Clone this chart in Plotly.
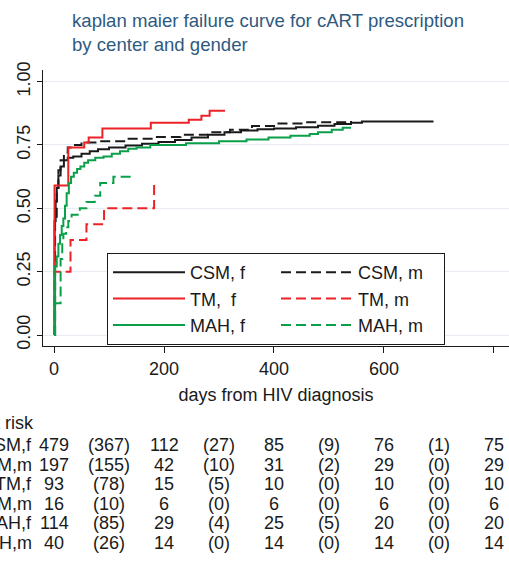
import plotly.graph_objects as go

# ---------------- data ----------------
csm_f_t = [0, 1, 3, 5, 8, 12, 18, 25, 35, 50, 65, 80, 100, 130, 160, 190, 220, 250, 280, 310, 340, 370, 400, 440, 480, 510, 540, 560, 690]
csm_f_f = [0, 0.45, 0.53, 0.58, 0.63, 0.665, 0.69, 0.70, 0.705, 0.715, 0.725, 0.733, 0.74, 0.748, 0.755, 0.762, 0.77, 0.78, 0.79, 0.80, 0.807, 0.812, 0.815, 0.82, 0.826, 0.833, 0.838, 0.843, 0.843]

csm_m_t = [0, 2, 5, 8, 12, 18, 25, 35, 50, 80, 130, 180, 230, 280, 320, 360, 400, 450, 540]
csm_m_f = [0, 0.45, 0.58, 0.65, 0.69, 0.72, 0.74, 0.75, 0.76, 0.765, 0.775, 0.782, 0.79, 0.80, 0.81, 0.825, 0.835, 0.84, 0.845]

tm_f_t = [0, 1, 26, 55, 63, 88, 176, 245, 268, 283, 311]
tm_f_f = [0, 0.59, 0.74, 0.76, 0.78, 0.815, 0.838, 0.85, 0.865, 0.885, 0.885]

tm_m_t = [0, 1, 30, 59, 91, 182]
tm_m_f = [0, 0.25, 0.375, 0.4375, 0.5, 0.6]

mah_f_t = [0, 2, 5, 8, 11, 14, 17, 20, 23, 27, 31, 36, 42, 48, 55, 62, 75, 90, 105, 120, 135, 150, 175, 240, 300, 350, 390, 430, 465, 480, 505, 525, 540]
mah_f_f = [0, 0.27, 0.31, 0.36, 0.395, 0.43, 0.46, 0.51, 0.56, 0.60, 0.625, 0.64, 0.655, 0.665, 0.68, 0.69, 0.70, 0.705, 0.715, 0.725, 0.735, 0.74, 0.75, 0.757, 0.765, 0.772, 0.78, 0.786, 0.793, 0.80, 0.81, 0.818, 0.818]

mah_m_t = [0, 1, 12, 15, 17, 22, 26, 32, 47, 59, 74, 84, 108, 144]
mah_m_f = [0, 0.125, 0.30, 0.37, 0.40, 0.425, 0.45, 0.475, 0.50, 0.525, 0.55, 0.60, 0.625, 0.625]

risk_times = [0, 200, 400, 600, 800]
event_times = [100, 300, 500, 700]
risk_labels = ["CSM,f", "CSM,m", "TM,f", "TM,m", "MAH,f", "MAH,m"]
at_risk = [
    [479, 112, 85, 76, 75],
    [197, 42, 31, 29, 29],
    [93, 15, 10, 10, 10],
    [16, 6, 6, 6, 6],
    [114, 29, 25, 20, 20],
    [40, 14, 14, 14, 14],
]
events = [
    [367, 27, 9, 1],
    [155, 10, 2, 0],
    [78, 5, 0, 0],
    [10, 0, 0, 0],
    [85, 4, 5, 0],
    [26, 0, 0, 0],
]

x_ticks = [0, 200, 400, 600, 800]
y_ticks = [0, 0.25, 0.5, 0.75, 1.0]
y_ticktext = ["0.00", "0.25", "0.50", "0.75", "1.00"]

# ---------------- style ----------------
BLACK = "#1a1a1a"
RED = "#ec2227"
GREEN = "#0aa04a"
FONT = "Liberation Sans, Arial, Helvetica, sans-serif"
W, H = 509, 561
ML, MR, MT, MB = 43, 0, 70, 215
PW = W - ML - MR
PH = H - MT - MB
DASH = "10px,5px"

series = [
    ("CSM, f", csm_f_t, csm_f_f, BLACK, "solid"),
    ("CSM, m", csm_m_t, csm_m_f, BLACK, DASH),
    ("TM,\u00a0 f", tm_f_t, tm_f_f, RED, "solid"),
    ("TM, m", tm_m_t, tm_m_f, RED, DASH),
    ("MAH, f", mah_f_t, mah_f_f, GREEN, "solid"),
    ("MAH, m", mah_m_t, mah_m_f, GREEN, DASH),
]

fig = go.Figure()
for name, t, f, col, dash in series:
    fig.add_trace(go.Scatter(
        x=t, y=f, mode="lines", name=name,
        line=dict(color=col, width=2, dash=dash, shape="hv"),
    ))


def py2paper(py):
    return (H - MB - py) / PH


def px2paper(px):
    return (px - ML) / PW


tfont = dict(size=18, color=BLACK, family=FONT)
ann = []
rows_py = [445, 464.6, 484.2, 503.8, 523.4, 543]
ann.append(dict(text="Number at risk", x=px2paper(36), xref="paper",
                y=py2paper(423), yref="paper", xanchor="right", yanchor="middle",
                showarrow=False, font=tfont))
for i, lab in enumerate(risk_labels):
    yp = py2paper(rows_py[i])
    ann.append(dict(text=lab, x=px2paper(34), xref="paper", y=yp, yref="paper",
                    xanchor="right", yanchor="middle", showarrow=False, font=tfont))
    for tt, v in zip(risk_times, at_risk[i]):
        ann.append(dict(text=str(v), x=tt, xref="x", y=yp, yref="paper",
                        xanchor="center", yanchor="middle", showarrow=False, font=tfont))
    for tt, v in zip(event_times, events[i]):
        ann.append(dict(text="(%d)" % v, x=tt, xref="x", y=yp, yref="paper",
                        xanchor="center", yanchor="middle", showarrow=False, font=tfont))

fig.update_layout(
    width=W, height=H,
    margin=dict(l=ML, r=MR, t=MT, b=MB, autoexpand=False),
    paper_bgcolor="white", plot_bgcolor="white",
    font=dict(family=FONT, size=18, color=BLACK),
    title=dict(
        text="kaplan maier failure curve for cART prescription<br>by center and gender",
        x=px2paper(72), xref="paper", xanchor="left",
        y=1 - 27 / H, yref="container", yanchor="top", automargin=False,
        font=dict(size=18.6, color="#2f5a80", family=FONT),
    ),
    xaxis=dict(
        range=[-20, 827.3], tickvals=x_ticks, showgrid=False, zeroline=False,
        showline=True, linecolor=BLACK, linewidth=1, automargin=False,
        ticks="outside", ticklen=6, tickcolor=BLACK,
        tickfont=dict(size=18, color=BLACK),
        title=dict(text="days from HIV diagnosis", font=dict(size=18, color=BLACK), standoff=10),
    ),
    yaxis=dict(
        range=[-0.0434, 1.046], tickvals=y_ticks, ticktext=y_ticktext,
        showgrid=True, gridcolor="#e6ecf2", gridwidth=1, zeroline=False,
        showline=True, linecolor=BLACK, linewidth=1, automargin=False,
        ticks="outside", ticklen=5, tickcolor=BLACK, tickangle=-90,
        tickfont=dict(size=18, color=BLACK),
    ),
    legend=dict(
        orientation="h", x=px2paper(107), y=py2paper(253),
        xanchor="left", yanchor="top",
        bgcolor="white", bordercolor=BLACK, borderwidth=1,
        font=dict(size=18, color=BLACK), itemwidth=72,
        entrywidth=81, entrywidthmode="pixels",
        traceorder="normal",
    ),
    annotations=ann,
)

fig.write_html(
    "out.html",
    config={"displayModeBar": False},
    post_script="document.body.style.margin='0';document.body.style.overflow='hidden';",
)
